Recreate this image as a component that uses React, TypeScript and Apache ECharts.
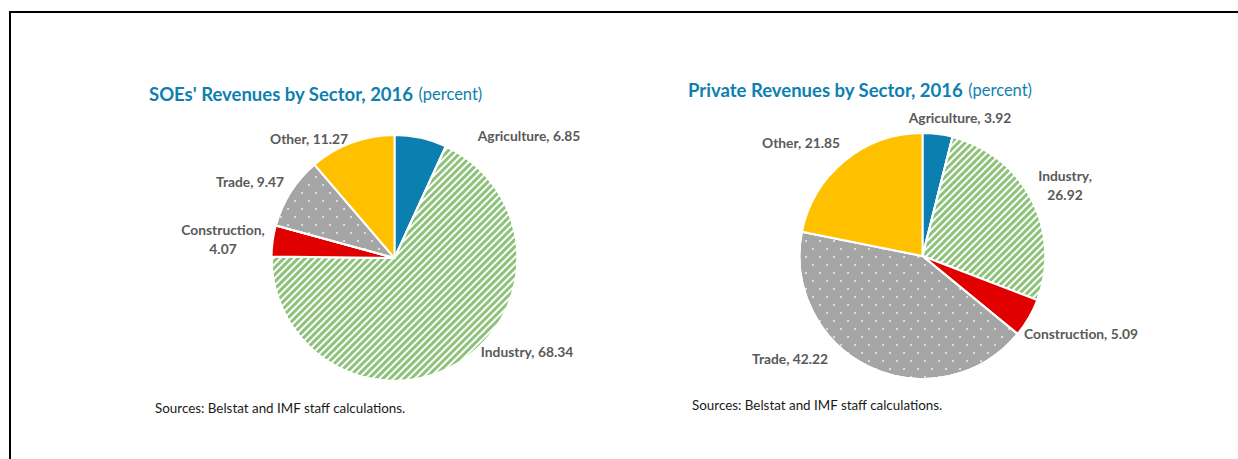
import React, { useEffect, useRef } from "react";
import * as echarts from "echarts";

const categories = ["Agriculture", "Industry", "Construction", "Trade", "Other"];
const soeValues = [6.85, 68.34, 4.07, 9.47, 11.27];
const privateValues = [3.92, 26.92, 5.09, 42.22, 21.85];
const soeTitle = "SOEs' Revenues by Sector, 2016";
const privateTitle = "Private Revenues by Sector, 2016";
const unitText = "(percent)";
const sourceText = "Sources: Belstat and IMF staff calculations.";
const soeWrapped = ["Construction"];
const privateWrapped = ["Industry"];

// label anchor layout (label centers), per chart / slice
const soeLabelAnchors = [
  [529, 135],
  [527, 351],
  [223, 239],
  [250, 181],
  [309, 138],
];
const privateLabelAnchors = [
  [960, 117],
  [1065, 185],
  [1081, 333],
  [790, 358],
  [801, 142],
];

const FONT = "Lato, 'Open Sans', sans-serif";
const LABEL_COLOR = "#595959";
const TITLE_COLOR = "#0E80B0";

const stripeDecal = {
  symbol: "rect",
  color: "#ffffff",
  dashArrayX: [1, 0],
  dashArrayY: [1.8, 2.2],
  rotation: -Math.PI / 4,
  symbolSize: 1,
};
const dotDecal = {
  symbol: "circle",
  color: "rgba(255,255,255,0.85)",
  dashArrayX: [
    [2, 12],
    [0, 7, 2, 5],
  ],
  dashArrayY: [2, 5.7],
  symbolSize: 0.9,
};

const sliceStyles = [
  { color: "#0B80B0" },
  { color: "#8DC27A", decal: stripeDecal },
  { color: "#E00000" },
  { color: "#A5A5A5", decal: dotDecal },
  { color: "#FFC000" },
];

function buildData(values: number[]) {
  return categories.map((name, i) => ({
    name,
    value: values[i],
    itemStyle: { ...sliceStyles[i], borderColor: "#ffffff", borderWidth: 2 },
  }));
}

function pieSeries(values: number[], center: [number, number]) {
  return {
    type: "pie",
    center,
    radius: 123,
    startAngle: 90,
    clockwise: true,
    avoidLabelOverlap: false,
    data: buildData(values),
    label: { show: false },
    labelLine: { show: false },
    emphasis: { disabled: true },
  };
}

function labelTexts(values: number[], wrapped: string[], anchors: number[][]) {
  return categories.map((name, i) => ({
    type: "text",
    x: anchors[i][0],
    y: anchors[i][1],
    silent: true,
    style: {
      text: wrapped.includes(name)
        ? `${name},\n${values[i].toFixed(2)}`
        : `${name}, ${values[i].toFixed(2)}`,
      fill: LABEL_COLOR,
      font: `bold 13.8px ${FONT}`,
      lineHeight: 19,
      align: "center",
      verticalAlign: "middle",
    },
  }));
}

export default function App() {
  const ref = useRef<HTMLDivElement>(null);
  useEffect(() => {
    if (!ref.current) return;
    const chart = echarts.init(ref.current, undefined, { renderer: "svg" });
    const titleRich = {
      b: { fontFamily: FONT, fontWeight: "bold", fontSize: 18.5, color: TITLE_COLOR },
      n: { fontFamily: FONT, fontWeight: "normal", fontSize: 16.5, color: TITLE_COLOR },
    };
    const sourceStyle = { fontFamily: FONT, fontWeight: "normal", fontSize: 13.4, color: "#1a1a1a" };
    chart.setOption({
      animation: false,
      backgroundColor: "#ffffff",
      title: [
        { text: `{b|${soeTitle}} {n|${unitText}}`, left: 149, top: 84, textStyle: { rich: titleRich }, padding: 0 },
        { text: `{b|${privateTitle}} {n|${unitText}}`, left: 688, top: 80, textStyle: { rich: titleRich }, padding: 0 },
        { text: sourceText, left: 155, top: 401, padding: 0, textStyle: sourceStyle },
        { text: sourceText, left: 692, top: 398, padding: 0, textStyle: sourceStyle },
      ],
      graphic: [
        {
          type: "rect",
          shape: { x: 10, y: 12, width: 1260, height: 480 },
          style: { fill: "none", stroke: "#000000", lineWidth: 2 },
          silent: true,
        },
        ...labelTexts(soeValues, soeWrapped, soeLabelAnchors),
        ...labelTexts(privateValues, privateWrapped, privateLabelAnchors),
      ],
      series: [pieSeries(soeValues, [394.5, 258]), pieSeries(privateValues, [922.5, 256])],
    });
    return () => chart.dispose();
  }, []);
  return <div ref={ref} style={{ position: "fixed", left: 0, top: 0, width: 1238, height: 459 }} />;
}
